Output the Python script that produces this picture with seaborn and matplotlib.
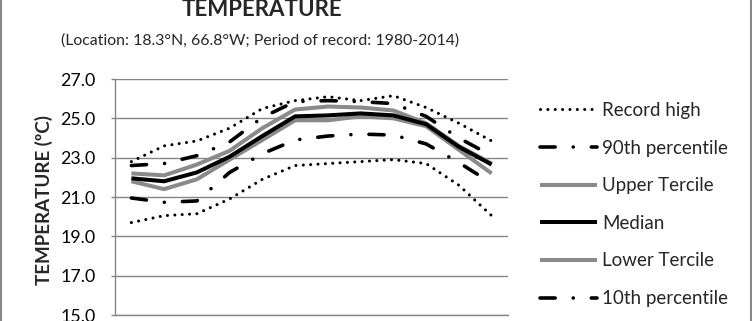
import numpy as np
import pandas as pd
import matplotlib
matplotlib.use("Agg")
import matplotlib.pyplot as plt
from matplotlib.patches import Rectangle
import seaborn as sns

# ---- data ----
months = ["Jan", "Feb", "Mar", "Apr", "May", "Jun", "Jul", "Aug", "Sep", "Oct", "Nov", "Dec"]
record_high = [22.8, 23.6, 23.85, 24.5, 25.5, 25.9, 26.1, 25.9, 26.15, 25.55, 24.75, 23.85]
p90 = [22.6, 22.7, 23.1, 23.8, 25.05, 25.85, 25.9, 25.85, 25.75, 25.1, 24.0, 23.1]
upper_tercile = [22.2, 22.1, 22.65, 23.35, 24.5, 25.45, 25.6, 25.55, 25.4, 24.75, 23.6, 22.7]
median = [21.95, 21.8, 22.25, 23.05, 24.1, 25.1, 25.15, 25.25, 25.15, 24.7, 23.55, 22.65]
lower_tercile = [21.8, 21.4, 21.9, 22.9, 23.9, 24.9, 24.9, 25.1, 25.0, 24.6, 23.4, 22.2]
p10 = [20.95, 20.73, 20.8, 22.25, 23.2, 23.9, 24.1, 24.2, 24.15, 23.7, 22.75, 21.7]
record_low = [19.7, 20.05, 20.15, 20.9, 21.9, 22.6, 22.7, 22.8, 22.9, 22.7, 21.6, 20.05]
yticks = [15.0, 17.0, 19.0, 21.0, 23.0, 25.0, 27.0]

series_names = ["Record high", "90th percentile", "Upper Tercile", "Median",
                "Lower Tercile", "10th percentile", "Record low"]
series_values = [record_high, p90, upper_tercile, median, lower_tercile, p10, record_low]

sns.set_theme(style="white")
plt.rcParams["font.family"] = ["Lato", "DejaVu Sans"]
plt.rcParams["lines.dash_capstyle"] = "round"
plt.rcParams["lines.solid_capstyle"] = "butt"

GRAY = "#8a8a8a"
AXGRAY = "#868686"
dotted = (0, (0.01, 2.4))
dashdot = (0, (4.2, 5.0, 0.01, 5.0))
styles = {
    "Record high": dict(color="black", lw=2.2, ls=dotted),
    "90th percentile": dict(color="black", lw=2.6, ls=dashdot),
    "Upper Tercile": dict(color=GRAY, lw=2.9, ls="-"),
    "Median": dict(color="black", lw=2.9, ls="-"),
    "Lower Tercile": dict(color=GRAY, lw=2.9, ls="-"),
    "10th percentile": dict(color="black", lw=2.6, ls=dashdot),
    "Record low": dict(color="black", lw=2.2, ls=dotted),
}
draw_order = ["Upper Tercile", "Lower Tercile", "Median", "Record high",
              "90th percentile", "10th percentile", "Record low"]

W, H = 752, 321
fig = plt.figure(figsize=(W / 100, H / 100), dpi=100)
ax = fig.add_axes([115 / W, 1 - 315 / H, (508 - 115) / W, (315 - 79) / H])

x = np.arange(len(months))
handles = {}
for name in draw_order:
    vals = series_values[series_names.index(name)]
    df = pd.DataFrame({"month": x, "temp": vals})
    st = styles[name]
    sns.lineplot(data=df, x="month", y="temp", ax=ax, color=st["color"],
                 linewidth=st["lw"], linestyle=st["ls"], label=name, legend=False)
    handles[name] = ax.lines[-1]

ax.set_xlim(-0.5, len(months) - 0.5)
ax.set_ylim(15, 27)
ax.set_yticks(yticks)
ax.set_yticklabels([f"{v:.1f}" for v in yticks])
ax.set_xticks(x)
ax.set_xticklabels([])
ax.set_xlabel("")
ax.set_ylabel("")
ax.yaxis.grid(True, color=AXGRAY, lw=1.0)
ax.xaxis.grid(False)
for s in ["top", "right"]:
    ax.spines[s].set_visible(False)
for s in ["left", "bottom"]:
    ax.spines[s].set_color(AXGRAY)
    ax.spines[s].set_linewidth(1.0)
ax.tick_params(axis="y", length=3, width=1, color=AXGRAY, pad=11, labelsize=12.8,
               labelcolor="black", left=True)
ax.tick_params(axis="x", length=0)

# titles
fig.text(262 / W, 1 - 16 / H, "TEMPERATURE", ha="center", va="baseline",
         fontsize=16, fontweight="bold")
fig.text(260 / W, 1 - 45 / H, "(Location: 18.3°N, 66.8°W; Period of record: 1980-2014)",
         ha="center", va="baseline", fontsize=11.4)
fig.text(44 / W, 1 - 200 / H, "TEMPERATURE (ºC)", rotation=90, ha="center", va="center",
         fontsize=13.5, fontweight="bold")

# legend
leg = ax.legend([handles[n] for n in series_names], series_names,
                loc="upper left", bbox_to_anchor=(540 / W, 1 - 102 / H),
                bbox_transform=fig.transFigure, frameon=False, fontsize=13.5,
                handlelength=3.04, handletextpad=0.27, labelspacing=1.1,
                borderpad=0, borderaxespad=0)

# chart border
fig.add_artist(Rectangle((1 / W, -0.2), (W - 2.5) / W, 1.4, transform=fig.transFigure,
                         fill=False, edgecolor=AXGRAY, lw=1.5, clip_on=False))

fig.savefig("out.png", dpi=100)
